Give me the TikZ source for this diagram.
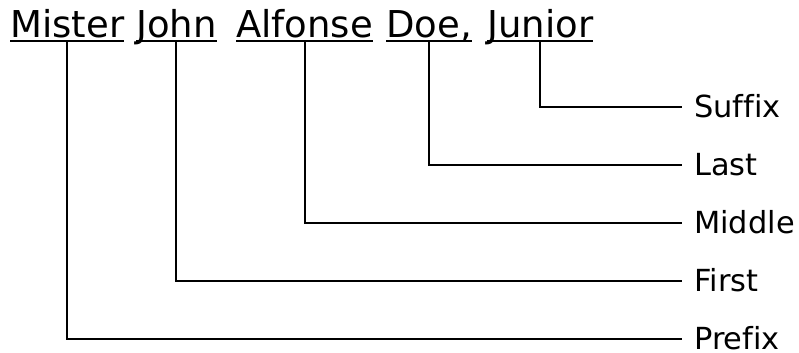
\documentclass[tikz,border=0pt]{standalone}
\usepackage{fontspec}
\setmainfont{DejaVu Sans}[Ligatures=NoCommon]
\usetikzlibrary{positioning}

\begin{document}
\begin{tikzpicture}[x=0.75pt, y=-0.75pt,
  word/.style={inner sep=0pt, text depth=2.6pt, anchor=base west, font=\fontsize{27.75}{32}\selectfont},
  part/.style={anchor=west, inner xsep=9pt, inner ysep=0pt, text height=15pt, text depth=0pt, font=\fontsize{22.8}{26}\selectfont},
  link/.style={line width=1.5pt}]
\useasboundingbox (0,0) rectangle (799,353);

% The full name
\node[word] (mister) at (10,37.5) {Mister};
\node[word] (john) at (136,37.5) {John};
\node[word] (alfonse) at (236,37.5) {Alfonse};
\node[word] (doe) at (386,37.5) {Doe,};
\node[word] (junior) at (487,37.5) {Junior};

% Underlines
\foreach \w in {mister,john,alfonse,doe,junior}
  \draw[link] (\w.south west) -- (\w.south east);

% Name parts
\node[part] (suffix) at (682,107) {Suffix};
\node[part] (last) at (682,165) {Last};
\node[part] (middle) at (682,223) {Middle};
\node[part] (first) at (682,281) {First};
\node[part] (prefix) at (682,339) {Prefix};

% Connections
\draw[link] (junior.south) |- (suffix.west);
\draw[link] (doe.south) |- (last.west);
\draw[link] (alfonse.south) |- (middle.west);
\draw[link] (john.south) |- (first.west);
\draw[link] (mister.south) |- (prefix.west);
\end{tikzpicture}
\end{document}
